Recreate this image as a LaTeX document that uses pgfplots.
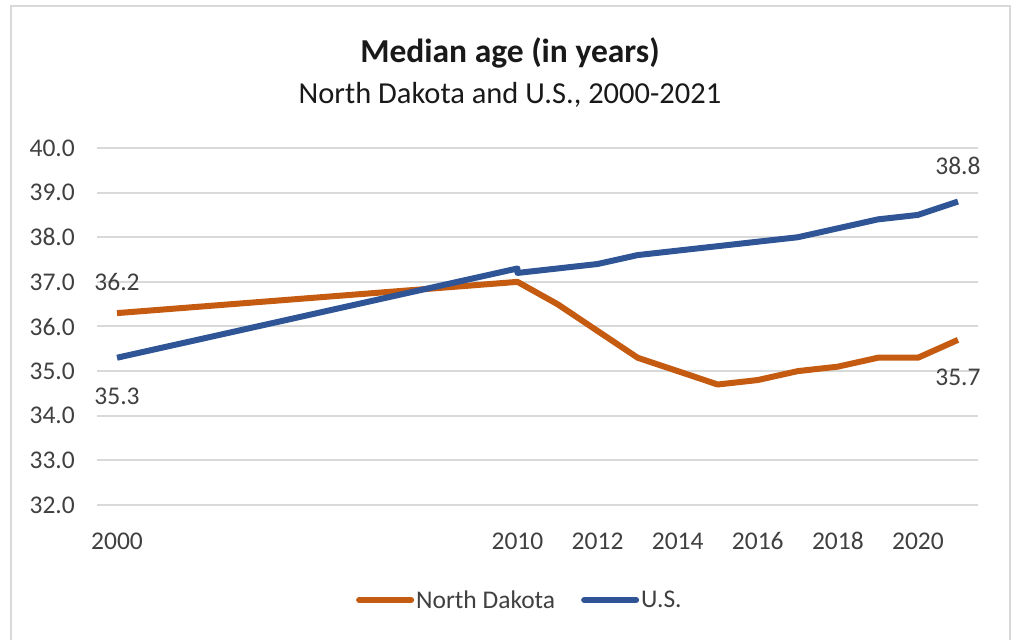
\documentclass[border=0pt]{standalone}
\usepackage{fontspec}
\setmainfont{Carlito}
\usepackage{pgfplots}
\pgfplotsset{compat=1.18}
\definecolor{ndorange}{HTML}{C55A11}
\definecolor{usblue}{HTML}{2F5597}
\definecolor{gridgray}{HTML}{D9D9D9}
\definecolor{txt}{HTML}{404040}
\newcommand{\lblfont}{\fontsize{25.5bp}{30bp}\selectfont}

\begin{document}
\begin{tikzpicture}[x=1bp,y=1bp]
\useasboundingbox (0,0) rectangle (1012,640);
\draw[gridgray, line width=2bp] (11,-2) -- (11,634) -- (1010,634) -- (1010,-2);
\node[anchor=base, font=\fontsize{33.5bp}{38bp}\selectfont\bfseries, text=black!90] at (510,577) {Median age (in years)};
\node[anchor=base, font=\fontsize{30.5bp}{36bp}\selectfont, text=black!90] at (510,536) {North Dakota and U.S., 2000-2021};

\begin{axis}[
  at={(97bp,135bp)}, anchor=south west,
  width=881bp, height=357bp, scale only axis,
  xmin=1999.5, xmax=2021.5, ymin=32, ymax=40,
  xtick={2000,2010,2012,2014,2016,2018,2020},
  ytick={32,33,...,40},
  axis line style={draw=none},
  major tick length=0pt,
  ymajorgrids, grid style={gridgray, line width=2bp},
  clip=false,
  /pgf/number format/assume math mode=true,
  tick label style={font=\lblfont, text=txt},
  xticklabel style={anchor=base, inner sep=0pt, yshift=-45bp,
    /pgf/number format/1000 sep={}},
  yticklabel style={anchor=east, inner sep=0pt, xshift=-22bp,
    /pgf/number format/.cd, fixed, fixed zerofill, precision=1},
  legend columns=2,
  legend style={at={(0.48,-0.266)}, anchor=center, draw=none, fill=none,
    font=\lblfont, text=txt,
    /tikz/every even column/.append style={column sep=24bp}},
  legend image code/.code={\draw[line width=6bp, line cap=round] (3bp,0bp) -- (55bp,0bp);},
]
\addplot[ndorange, line width=6bp, line join=round] coordinates {
 (2000,36.3) (2010,37.0) (2011,36.5) (2012,35.9) (2013,35.3) (2014,35.0)
 (2015,34.7) (2016,34.8) (2017,35.0) (2018,35.1) (2019,35.3) (2020,35.3) (2021,35.7)};
\addlegendentry{North Dakota}
\addplot[usblue, line width=6bp, line join=round] coordinates {
 (2000,35.3) (2010,37.3) (2010,37.2) (2011,37.3) (2012,37.4) (2013,37.6) (2014,37.7)
 (2015,37.8) (2016,37.9) (2017,38.0) (2018,38.2) (2019,38.4) (2020,38.5) (2021,38.8)};
\addlegendentry{U.S.}
\node[font=\lblfont, text=txt] at (axis cs:2000,37.0) {36.2};
\node[font=\lblfont, text=txt] at (axis cs:2000,34.44) {35.3};
\node[font=\lblfont, text=txt] at (axis cs:2021,39.6) {38.8};
\node[font=\lblfont, text=txt] at (axis cs:2021,34.87) {35.7};
\end{axis}
\end{tikzpicture}
\end{document}
